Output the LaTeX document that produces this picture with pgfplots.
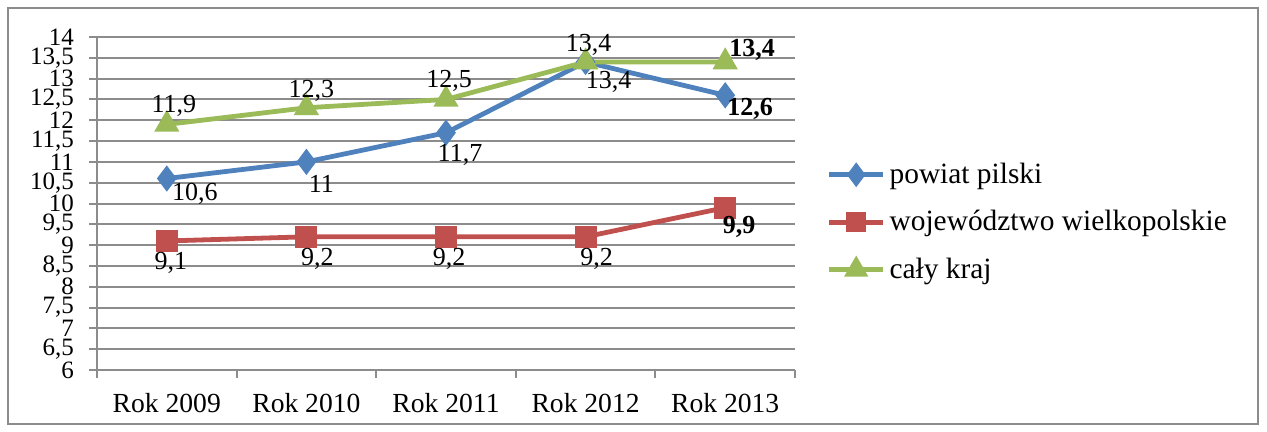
\documentclass[border=0pt]{standalone}
\usepackage{fontspec}
\setmainfont{Liberation Serif}
\usepackage{pgfplots}
\usepackage{pgfplotstable}
\pgfplotsset{compat=1.18}

\definecolor{cBlue}{HTML}{4F81BD}
\definecolor{cRed}{HTML}{C0504D}
\definecolor{cGreen}{HTML}{9BBB59}
\definecolor{gridgray}{HTML}{8C8C8C}

% x y label  label-offset(dx,dy in pt)  bold
\pgfplotstableread{
x y lab dx dy bf
0 10.6 10,6 14 -7.5 0
1 11.0 11 7.5 -11 0
2 11.7 11,7 7 -11 0
3 13.4 13,4 11.5 -10 0
4 12.6 12,6 12.5 -7 1
}\powiat

\pgfplotstableread{
x y lab dx dy bf
0 9.1 9,1 2 -11 0
1 9.2 9,2 5.5 -11 0
2 9.2 9,2 1.5 -11 0
3 9.2 9,2 5.5 -11 0
4 9.9 9,9 7 -9.5 1
}\woj

\pgfplotstableread{
x y lab dx dy bf
0 11.9 11,9 3.5 9.5 0
1 12.3 12,3 2.5 8.5 0
2 12.5 12,5 1.5 9.5 0
3 13.4 13,4 1.5 8.5 0
4 13.4 13,4 13.5 6 1
}\kraj

\pgfplotsset{
  lbl/.style={
    point meta=explicit symbolic,
    visualization depends on={\thisrow{dx}\as\labdx},
    visualization depends on={\thisrow{dy}\as\labdy},
    visualization depends on={\thisrow{bf}\as\labbf},
    nodes near coords={\ifdim\labbf pt>0.5pt\bfseries\fi\pgfplotspointmeta},
    every node near coord/.append style={anchor=center, inner sep=0pt,
      xshift=\labdx pt, yshift=\labdy pt, text=black,
      font=\fontsize{13}{15}\selectfont},
  },
}

\begin{document}
\begin{tikzpicture}
\useasboundingbox (0,0) rectangle (633.5pt,216pt);
\draw[gridgray, line width=1pt] (4pt,4pt) rectangle (629pt,212pt);
\begin{axis}[
  at={(48.5pt,31pt)}, anchor=south west,
  scale only axis, width=349pt, height=166.5pt,
  xmin=-0.5, xmax=4.5, ymin=6, ymax=14,
  axis x line*=bottom, axis y line*=left,
  axis line style={gridgray, line width=1pt},
  ymajorgrids, major grid style={gridgray, line width=1pt},
  ytick={6,6.5,7,7.5,8,8.5,9,9.5,10,10.5,11,11.5,12,12.5,13,13.5,14},
  xtick={-0.5,0.5,1.5,2.5,3.5,4.5},
  xticklabels={,,,,,},
  extra x ticks={0,1,2,3,4},
  extra x tick labels={Rok 2009,Rok 2010,Rok 2011,Rok 2012,Rok 2013},
  extra x tick style={major tick length=0pt, grid=none,
    tick label style={yshift=-8pt, font=\fontsize{13.8}{15}\selectfont}},
  tick align=outside, major tick length=4pt,
  tick style={gridgray, line width=1pt},
  /pgf/number format/use comma,
  /pgf/number format/assume math mode=true,
  tick label style={font=\fontsize{12.5}{14}\selectfont, text=black},
  yticklabel style={xshift=-4pt},
  clip=false,
  legend style={at={(1.045,0.444)}, anchor=west, draw=none, fill=none,
    inner sep=0pt, row sep=8pt, font=\fontsize{14.7}{16}\selectfont},
  legend cell align=left,
  legend image code/.code={\draw[mark repeat=2, mark phase=2]
    plot coordinates {(0pt,0pt) (13.5pt,0pt) (27pt,0pt)};},
]
\addlegendimage{cBlue, line width=2.4pt, mark=diamond*, mark size=4.2pt,
  mark options={solid, draw=none, fill=cBlue}}
\addlegendentry{powiat pilski}
\addlegendimage{cRed, line width=2.4pt, mark=square*, mark size=3.8pt,
  mark options={solid, draw=none, fill=cRed}}
\addlegendentry{województwo wielkopolskie}
\addlegendimage{cGreen, line width=2.4pt, mark=triangle*, mark size=4.6pt,
  mark options={solid, draw=none, fill=cGreen}}
\addlegendentry{cały kraj}

\addplot[forget plot, cBlue, line width=2.4pt, mark=diamond*, mark size=4.6pt,
  mark options={solid, draw=none, fill=cBlue}, lbl]
  table[x=x, y=y, meta=lab] {\powiat};
\addplot[forget plot, cRed, line width=2.4pt, mark=square*, mark size=4.3pt,
  mark options={solid, draw=none, fill=cRed}, lbl]
  table[x=x, y=y, meta=lab] {\woj};
\addplot[forget plot, cGreen, line width=2.4pt, mark=triangle*, mark size=4.9pt,
  mark options={solid, draw=none, fill=cGreen}, lbl]
  table[x=x, y=y, meta=lab] {\kraj};
\end{axis}
\end{tikzpicture}
\end{document}
